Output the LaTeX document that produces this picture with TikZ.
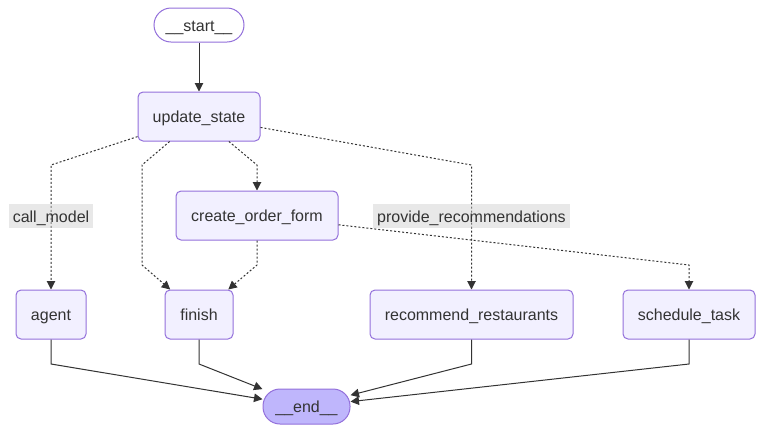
\documentclass[tikz,border=0pt]{standalone}
\usepackage{fontspec}
\setmainfont{Liberation Sans}
\usetikzlibrary{arrows.meta}
\definecolor{nodefill}{HTML}{F2F0FF}
\definecolor{nodeline}{HTML}{9370DB}
\definecolor{endfill}{HTML}{BFB6FC}
\definecolor{ink}{HTML}{333333}
\begin{document}
\begin{tikzpicture}[x=1pt,y=-1pt,
  every node/.style={font=\fontsize{16}{19}\selectfont, text=ink,
    text height=15pt, text depth=3pt},
  box/.style={draw=nodeline, fill=nodefill, line width=1pt, rounded corners=5pt,
    minimum height=49pt, inner sep=0pt},
  pill/.style={draw=nodeline, line width=1pt, rounded corners=17pt,
    minimum height=34pt, inner sep=0pt},
  flow/.style={draw=ink, line width=1pt, -{Triangle[length=8.5pt,width=8.5pt]}},
  cond/.style={flow, dash pattern=on 2pt off 2pt},
  lbl/.style={fill=black!20, fill opacity=0.45, text opacity=1,
    minimum height=24pt, inner xsep=4pt, inner ysep=0pt}
]
\useasboundingbox (0,0) rectangle (764,432);

% nodes
\node[pill, fill=white, minimum width=90pt] (start) at (199,25) {\_\_start\_\_};
\node[box, minimum width=122pt] (upd) at (199,116.5) {update\_state};
\node[box, minimum width=162pt] (cof) at (257,215.5) {create\_order\_form};
\node[box, minimum width=70pt] (agent) at (51,314.5) {agent};
\node[box, minimum width=68pt] (finish) at (199,314.5) {finish};
\node[box, minimum width=203pt] (rec) at (471.5,314.5) {recommend\_restaurants};
\node[box, minimum width=132pt] (sched) at (689,314.5) {schedule\_task};
\node[pill, fill=endfill, minimum width=87pt, minimum height=35pt] (end) at (306.5,406.5) {\_\_end\_\_};

% connectors
\draw[flow] (start) -- (upd);
\draw[cond] (upd) -- (51,165) -- (agent);
\draw[cond] (upd) -- (142,165) -- (142,265) -- (finish);
\draw[cond] (upd) -- (257,165) -- (cof);
\draw[cond] (upd) -- (471.5,165) -- (rec);
\draw[cond] (cof) -- (257,265) -- (finish);
\draw[cond] (cof) -- (689,265) -- (sched);
\draw[flow] (agent) -- (51,364) -- (end);
\draw[flow] (finish) -- (199,364) -- (end);
\draw[flow] (rec) -- (471.5,364) -- (end);
\draw[flow] (sched) -- (689,364) -- (end);

% edge labels
\node[lbl] (lcall) at (51,216) {call\_model};
\node[lbl] (lprov) at (471.5,216) {provide\_recommendations};
\end{tikzpicture}
\end{document}
